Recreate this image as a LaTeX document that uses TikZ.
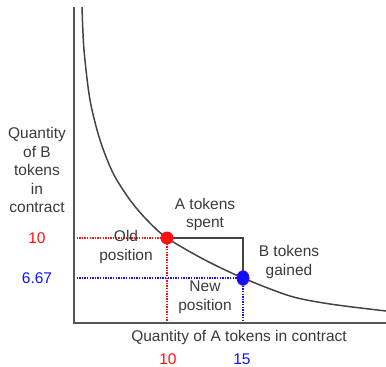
\documentclass[tikz,border=0pt]{standalone}
\usepackage{fontspec}
\setmainfont{Liberation Sans}
\usetikzlibrary{shapes.geometric}
\definecolor{txtgray}{HTML}{3A3A3A}
\definecolor{axisgray}{HTML}{555555}
\definecolor{curvegray}{HTML}{444444}
\definecolor{myred}{HTML}{FF1010}
\definecolor{myblue}{HTML}{1010FF}
\begin{document}
\begin{tikzpicture}[x=1pt,y=-1pt,
  lbl/.style={text=txtgray, font=\fontsize{15.5}{18.5}\selectfont, align=center, inner sep=0pt},
  axisline/.style={draw=axisgray, line width=2pt},
  curveline/.style={draw=curvegray, line width=1.5pt},
  bracket/.style={draw=curvegray, line width=1.5pt},
  reddots/.style={draw=myred, line width=1.3pt, dash pattern=on 1.3pt off 1.3pt},
  bluedots/.style={draw=myblue, line width=1.3pt, dash pattern=on 1.3pt off 1.3pt}]
\useasboundingbox (0,0) rectangle (386,367);
% axes
\coordinate (O) at (74,323);
\coordinate (ytop) at (74,7);
\coordinate (xend) at (386,323);
\coordinate (oldy) at (74,238);
\coordinate (oldx) at (167,323);
\coordinate (newy) at (74,278);
\coordinate (newx) at (243,323);
\coordinate (corner) at (243,238);
\coordinate (oldc) at (167,238);
\coordinate (newc) at (243,278);
\draw[reddots] (oldy) -- (oldc) -- (oldx);
\draw[bluedots] (newy) -- (newc) -- (newx);
\draw[axisline] (ytop) -- (O) -- (xend);
\draw[bracket] (oldc) -- (corner) -- (newc);
\draw[curveline] plot[smooth, tension=0.5] coordinates {(82,7) (84,50) (90,100) (100,140) (113,173) (130,200) (147,220) (167,238) (205,260) (243,278) (290,296) (330,304) (386,311)};
\node[circle, fill=myred, inner sep=0pt, minimum size=13pt] (old) at (oldc) {};
\node[ellipse, fill=myblue, draw=myred!50!myblue, line width=0.4pt, inner sep=0pt, minimum width=12.5pt, minimum height=15pt] (new) at (newc) {};
% labels
\node[lbl] (ylab) at (37,170) {Quantity\\of B\\tokens\\in\\contract};
\node[lbl, text=myred] (y10) at (37,238) {10};
\node[lbl, text=myblue] (y667) at (37,278) {6.67};
\node[lbl] (spent) at (205,214.5) {A tokens\\spent};
\node[lbl] (oldlab) at (126,247) {Old\\position};
\node[lbl] (newlab) at (205,297.5) {New\\position};
\node[lbl] (gained) at (289,262) {B tokens\\gained};
\node[lbl] (xlab) at (239,337) {Quantity of A tokens in contract};
\node[lbl, text=myred] (x10) at (168,359) {10};
\node[lbl, text=myblue] (x15) at (242,359) {15};
\end{tikzpicture}
\end{document}
